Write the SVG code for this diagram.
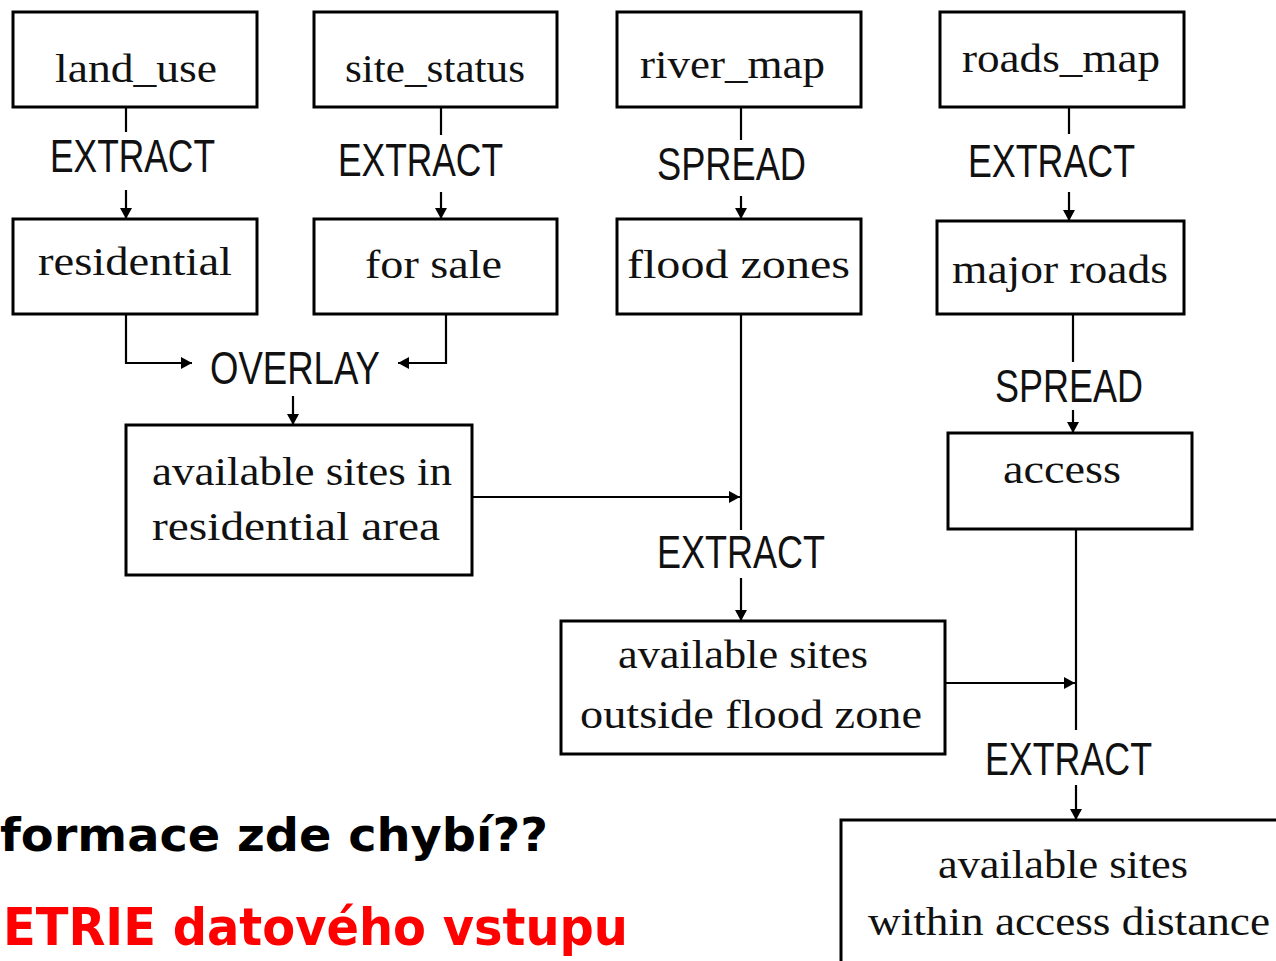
<svg xmlns="http://www.w3.org/2000/svg" width="1276" height="961" viewBox="0 0 1276 961">
<defs>
<marker id="ah" markerUnits="userSpaceOnUse" markerWidth="13" markerHeight="13" refX="11" refY="6" orient="auto">
<path d="M0,0 L11,6 L0,12 z" fill="#000"/>
</marker>
<style>
.box{fill:#fff;stroke:#000;stroke-width:3}
.lbl{font-family:"Liberation Serif","DejaVu Serif",serif;font-size:40px;fill:#111}
.op{font-family:"Liberation Sans","DejaVu Sans",sans-serif;font-size:46px;fill:#111}
.c{fill:none;stroke:#000;stroke-width:2.2}
.a{marker-end:url(#ah)}
.big{font-family:"DejaVu Sans",Verdana,sans-serif;font-weight:bold}
</style>
</defs>
<rect width="1276" height="961" fill="#fff"/>

<g id="connectors">
<path class="c" d="M126,107 V132"/>
<path class="c a" d="M126,190 V219"/>
<path class="c" d="M441,107 V135"/>
<path class="c a" d="M441,192 V219"/>
<path class="c" d="M741,107 V140"/>
<path class="c a" d="M741,196 V219"/>
<path class="c" d="M1069,107 V134"/>
<path class="c a" d="M1069,192 V221"/>
<path class="c a" d="M126,314 V363 H192"/>
<path class="c a" d="M446,314 V363 H398"/>
<path class="c a" d="M293,396 V425"/>
<path class="c" d="M741,314 V530"/>
<path class="c a" d="M472,497 H740"/>
<path class="c a" d="M741,578 V621"/>
<path class="c" d="M1073,314 V362"/>
<path class="c a" d="M1073,410 V433"/>
<path class="c" d="M1076,529 V730"/>
<path class="c a" d="M945,683 H1075"/>
<path class="c a" d="M1076,785 V820"/>
<text class="op" x="50" y="172" textLength="165" lengthAdjust="spacingAndGlyphs">EXTRACT</text>
<text class="op" x="338" y="176" textLength="165" lengthAdjust="spacingAndGlyphs">EXTRACT</text>
<text class="op" x="657" y="180" textLength="149" lengthAdjust="spacingAndGlyphs">SPREAD</text>
<text class="op" x="968" y="177" textLength="167" lengthAdjust="spacingAndGlyphs">EXTRACT</text>
<text class="op" x="210" y="384" textLength="170" lengthAdjust="spacingAndGlyphs">OVERLAY</text>
<text class="op" x="995" y="402" textLength="148" lengthAdjust="spacingAndGlyphs">SPREAD</text>
<text class="op" x="657" y="568" textLength="168" lengthAdjust="spacingAndGlyphs">EXTRACT</text>
<text class="op" x="985" y="775" textLength="167" lengthAdjust="spacingAndGlyphs">EXTRACT</text>
</g>

<g id="land_use">
<rect class="box" x="13" y="12" width="244" height="95"/>
<text class="lbl" x="55" y="82" textLength="162" lengthAdjust="spacingAndGlyphs">land_use</text>
</g>
<g id="site_status">
<rect class="box" x="314" y="12" width="243" height="95"/>
<text class="lbl" x="345" y="82" textLength="180" lengthAdjust="spacingAndGlyphs">site_status</text>
</g>
<g id="river_map">
<rect class="box" x="617" y="12" width="244" height="95"/>
<text class="lbl" x="640" y="78" textLength="185" lengthAdjust="spacingAndGlyphs">river_map</text>
</g>
<g id="roads_map">
<rect class="box" x="940" y="12" width="244" height="95"/>
<text class="lbl" x="962" y="72" textLength="198" lengthAdjust="spacingAndGlyphs">roads_map</text>
</g>
<g id="residential">
<rect class="box" x="13" y="219" width="244" height="95"/>
<text class="lbl" x="38" y="275" textLength="194" lengthAdjust="spacingAndGlyphs">residential</text>
</g>
<g id="for_sale">
<rect class="box" x="314" y="219" width="243" height="95"/>
<text class="lbl" x="365" y="278" textLength="137" lengthAdjust="spacingAndGlyphs">for sale</text>
</g>
<g id="flood_zones">
<rect class="box" x="617" y="219" width="244" height="95"/>
<text class="lbl" x="627" y="278" textLength="223" lengthAdjust="spacingAndGlyphs">flood zones</text>
</g>
<g id="major_roads">
<rect class="box" x="937" y="221" width="247" height="93"/>
<text class="lbl" x="952" y="283" textLength="216" lengthAdjust="spacingAndGlyphs">major roads</text>
</g>
<g id="access">
<rect class="box" x="948" y="433" width="244" height="96"/>
<text class="lbl" x="1003" y="483" textLength="118" lengthAdjust="spacingAndGlyphs">access</text>
</g>
<g id="sites_residential">
<rect class="box" x="126" y="425" width="346" height="150"/>
<text class="lbl" x="152" y="485" textLength="300" lengthAdjust="spacingAndGlyphs">available sites in</text>
<text class="lbl" x="152" y="540" textLength="288" lengthAdjust="spacingAndGlyphs">residential area</text>
</g>
<g id="sites_outside_flood">
<rect class="box" x="561" y="621" width="384" height="133"/>
<text class="lbl" x="618" y="668" textLength="250" lengthAdjust="spacingAndGlyphs">available sites</text>
<text class="lbl" x="580" y="728" textLength="342" lengthAdjust="spacingAndGlyphs">outside flood zone</text>
</g>
<g id="sites_within_access">
<rect class="box" x="841" y="820" width="460" height="160"/>
<text class="lbl" x="938" y="878" textLength="250" lengthAdjust="spacingAndGlyphs">available sites</text>
<text class="lbl" x="868" y="935" textLength="402" lengthAdjust="spacingAndGlyphs">within access distance</text>
</g>

<text class="big" x="0" y="851" font-size="46" fill="#000" textLength="548" lengthAdjust="spacingAndGlyphs">formace zde chybí??</text>
<text class="big" x="3" y="945" font-size="52" fill="#ff0000" textLength="625" lengthAdjust="spacingAndGlyphs">ETRIE datového vstupu</text>
</svg>
